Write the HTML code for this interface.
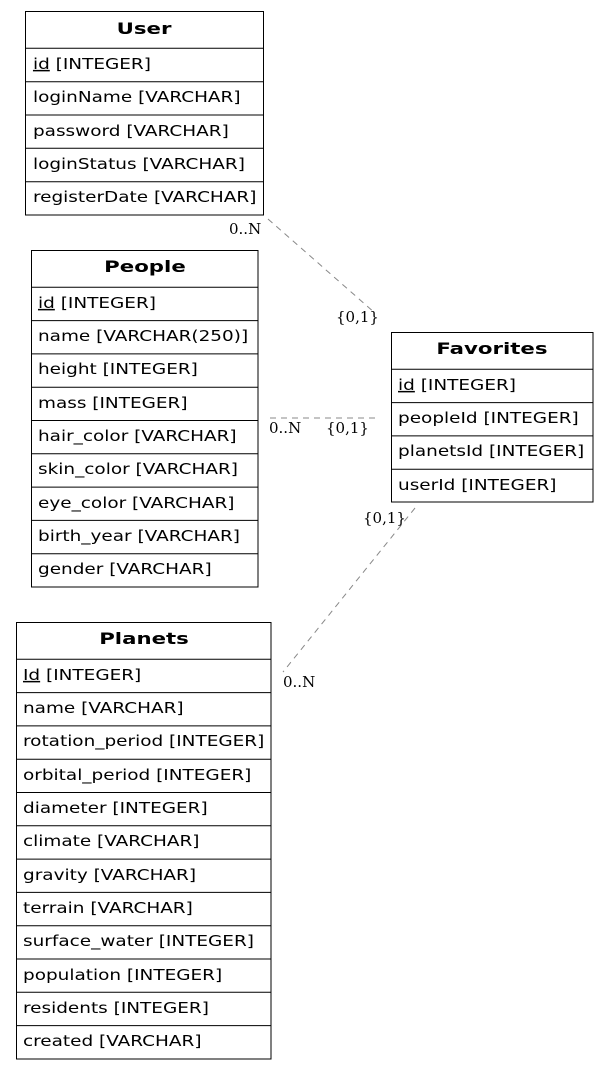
<!DOCTYPE html>
<html><head><meta charset="utf-8"><style>
html,body{margin:0;padding:0;background:#fff;}
svg{display:block;}
.h{font-family:"DejaVu Sans","Liberation Sans",sans-serif;font-weight:bold;font-size:16px;text-anchor:middle;}
.r{font-family:"DejaVu Sans","Liberation Sans",sans-serif;font-size:15px;}
.l{font-family:"DejaVu Serif","Liberation Serif",serif;font-size:15px;}
</style></head><body>
<svg width="609" height="1070" viewBox="0 0 609 1070" xmlns="http://www.w3.org/2000/svg">
<g stroke="#888" stroke-width="1" stroke-dasharray="6,5" fill="none">
<line x1="268" y1="219" x2="375" y2="313"/>
<line x1="270" y1="418" x2="375" y2="418"/>
<line x1="415" y1="508" x2="283" y2="672"/>
</g>
<g class="l">
<text x="229" y="234">0..N</text>
<text x="336" y="322">{0,1}</text>
<text x="269" y="433">0..N</text>
<text x="326" y="433">{0,1}</text>
<text x="363" y="523">{0,1}</text>
<text x="283" y="687">0..N</text>
</g>
<g fill="none" stroke="#000" stroke-width="1">
<rect x="25.5" y="11.5" width="238" height="203.5"/>
<path d="M25.5 48.3H263.5M25.5 81.7H263.5M25.5 115H263.5M25.5 148.3H263.5M25.5 181.7H263.5"/>
<rect x="31.5" y="250.5" width="226.5" height="336.5"/>
<path d="M31.5 287.3H258M31.5 320.6H258M31.5 353.9H258M31.5 387.2H258M31.5 420.5H258M31.5 453.8H258M31.5 487.1H258M31.5 520.4H258M31.5 553.7H258"/>
<rect x="391.5" y="332.5" width="201.5" height="169.5"/>
<path d="M391.5 369.3H593M391.5 402.6H593M391.5 435.9H593M391.5 469.2H593"/>
<rect x="16.5" y="622.5" width="254.5" height="436.5"/>
<path d="M16.5 659.3H271M16.5 692.6H271M16.5 725.9H271M16.5 759.2H271M16.5 792.5H271M16.5 825.8H271M16.5 859.1H271M16.5 892.4H271M16.5 925.7H271M16.5 959H271M16.5 992.3H271M16.5 1025.6H271"/>
</g>
<g transform="scale(1.33,1)" class="h">
<text x="108.3" y="34">User</text>
<text x="109" y="272">People</text>
<text x="369.9" y="354">Favorites</text>
<text x="108.3" y="644">Planets</text>
</g>
<g transform="scale(1.23,1)" class="r">
<text x="26.8" y="69"><tspan text-decoration="underline">id</tspan> [INTEGER]</text>
<text x="26.8" y="102">loginName [VARCHAR]</text>
<text x="26.8" y="136">password [VARCHAR]</text>
<text x="26.8" y="169">loginStatus [VARCHAR]</text>
<text x="26.8" y="202">registerDate [VARCHAR]</text>
<text x="30.9" y="308"><tspan text-decoration="underline">id</tspan> [INTEGER]</text>
<text x="30.9" y="341">name [VARCHAR(250)]</text>
<text x="30.9" y="374">height [INTEGER]</text>
<text x="30.9" y="408">mass [INTEGER]</text>
<text x="30.9" y="441">hair_color [VARCHAR]</text>
<text x="30.9" y="474">skin_color [VARCHAR]</text>
<text x="30.9" y="508">eye_color [VARCHAR]</text>
<text x="30.9" y="541">birth_year [VARCHAR]</text>
<text x="30.9" y="574">gender [VARCHAR]</text>
<text x="323.6" y="390"><tspan text-decoration="underline">id</tspan> [INTEGER]</text>
<text x="323.6" y="423">peopleId [INTEGER]</text>
<text x="323.6" y="456">planetsId [INTEGER]</text>
<text x="323.6" y="490">userId [INTEGER]</text>
<text x="18.7" y="680"><tspan text-decoration="underline">Id</tspan> [INTEGER]</text>
<text x="18.7" y="713">name [VARCHAR]</text>
<text x="18.7" y="746">rotation_period [INTEGER]</text>
<text x="18.7" y="780">orbital_period [INTEGER]</text>
<text x="18.7" y="813">diameter [INTEGER]</text>
<text x="18.7" y="846">climate [VARCHAR]</text>
<text x="18.7" y="880">gravity [VARCHAR]</text>
<text x="18.7" y="913">terrain [VARCHAR]</text>
<text x="18.7" y="946">surface_water [INTEGER]</text>
<text x="18.7" y="980">population [INTEGER]</text>
<text x="18.7" y="1013">residents [INTEGER]</text>
<text x="18.7" y="1046">created [VARCHAR]</text>
</g>
</svg>
</body></html>
